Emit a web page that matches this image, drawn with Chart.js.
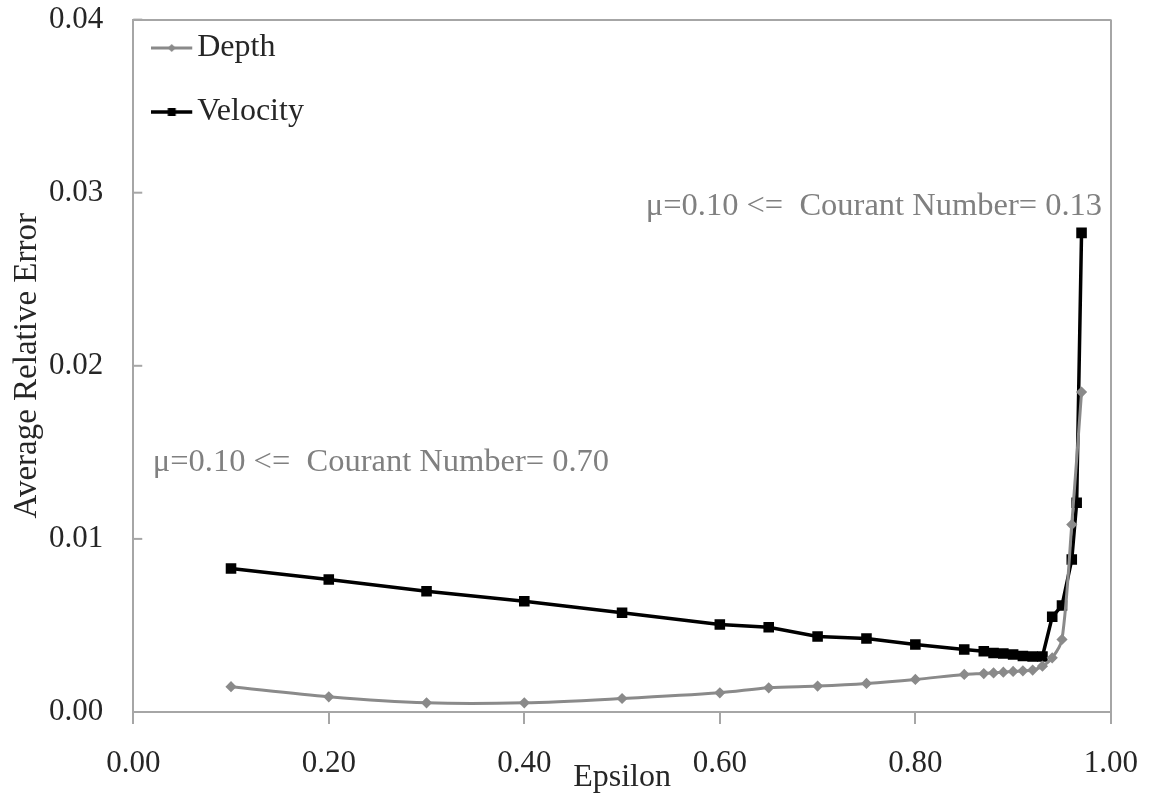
<!DOCTYPE html>
<html>
<head>
<meta charset="utf-8">
<script src="https://cdn.jsdelivr.net/npm/chart.js@4.4.0/dist/chart.umd.min.js"></script>
<style>
  html, body { margin: 0; padding: 0; background: #fff; }
  #wrap { width: 1152px; height: 797px; }
</style>
</head>
<body>
<div id="wrap"><canvas id="error-chart"></canvas></div>
<script>
// epsilon values along the x axis
const epsilon = [0.10, 0.20, 0.30, 0.40, 0.50, 0.60, 0.65, 0.70, 0.75, 0.80, 0.85, 0.87,
                 0.88, 0.89, 0.90, 0.91, 0.92, 0.93, 0.94, 0.95, 0.96, 0.965, 0.97];

// average relative error
const depthError = [0.00146, 0.00088, 0.00053, 0.00053, 0.00078, 0.00111, 0.00140, 0.00150,
                    0.00165, 0.00188, 0.00217, 0.00222, 0.00226, 0.00230, 0.00234, 0.00238,
                    0.00242, 0.00265, 0.00313, 0.00419, 0.01083, null, 0.01848];
const velocityError = [0.00829, 0.00765, 0.00698, 0.00640, 0.00573, 0.00505, 0.00490, 0.00436,
                       0.00425, 0.00390, 0.00361, 0.00351, 0.00341, 0.00338, 0.00332, 0.00324,
                       0.00321, 0.00321, 0.00550, 0.00615, 0.00881, 0.01209, 0.02768];

const seriesNames = ['Depth', 'Velocity'];
const noteTexts = ['μ=0.10 <=  Courant Number= 0.13', 'μ=0.10 <=  Courant Number= 0.70'];

const serif = '"Liberation Serif", "Times New Roman", serif';
const frame = '#a6a6a6';
const depthColor = '#8a8a8a';

Chart.defaults.font.family = serif;
Chart.defaults.color = '#262626';

// line + marker sample for the legend
function legendIcon(color, lw, marker) {
    const c = document.createElement('canvas');
    c.width = 44; c.height = 14;
    const g = c.getContext('2d');
    g.strokeStyle = color;
    g.fillStyle = color;
    g.lineWidth = lw;
    g.beginPath(); g.moveTo(0, 7); g.lineTo(41, 7); g.stroke();
    if (marker === 'rect') {
        g.fillRect(16.5, 3, 8, 8);
    } else {
        g.beginPath(); g.moveTo(20.5, 3); g.lineTo(24.5, 7); g.lineTo(20.5, 11); g.lineTo(16.5, 7); g.closePath(); g.fill();
    }
    return c;
}
const icons = [legendIcon(depthColor, 3, 'diamond'), legendIcon('#000', 3.5, 'rect')];

// text notes placed in data coordinates, plus the small inward y ticks
const notes = {
    id: 'notes',
    beforeDatasetsDraw(chart) {
        const {ctx, chartArea, scales: {y}} = chart;
        ctx.save();
        ctx.strokeStyle = frame;
        ctx.lineWidth = 2;
        y.ticks.forEach(t => {
            const py = y.getPixelForValue(t.value);
            ctx.beginPath();
            ctx.moveTo(chartArea.left, py);
            ctx.lineTo(chartArea.left + 9, py);
            ctx.stroke();
        });
        ctx.restore();
    },
    afterDatasetsDraw(chart) {
        const {ctx, scales: {x, y}} = chart;
        ctx.save();
        ctx.font = '32.5px ' + serif;
        ctx.fillStyle = '#808080';
        ctx.textBaseline = 'alphabetic';
        ctx.textAlign = 'right';
        ctx.fillText(noteTexts[0], x.getPixelForValue(0.991), y.getPixelForValue(0.0287));
        ctx.textAlign = 'left';
        ctx.fillText(noteTexts[1], x.getPixelForValue(0.02), y.getPixelForValue(0.0139));
        ctx.restore();
    }
};

let errorChart = new Chart(document.getElementById('error-chart'), {
    type: 'line',
    data: {
        datasets: [
            {
                label: seriesNames[0],
                data: epsilon.map((e, i) => ({x: e, y: depthError[i]})),
                borderColor: depthColor,
                backgroundColor: depthColor,
                borderWidth: 3,
                pointStyle: 'rectRot',
                pointRadius: 3.5,
                tension: 0.3,
                spanGaps: true
            },
            {
                label: seriesNames[1],
                data: epsilon.map((e, i) => ({x: e, y: velocityError[i]})),
                borderColor: '#000',
                backgroundColor: '#000',
                borderWidth: 3.5,
                pointStyle: 'rect',
                pointRadius: 5,
                tension: 0
            }
        ]
    },
    options: {
        animation: false,
        responsive: true,
        maintainAspectRatio: false,
        layout: { padding: { top: 2, right: 40 } },
        plugins: {
            tooltip: { enabled: false },
            legend: {
                position: 'chartArea',
                fullSize: false,
                align: 'start',
                labels: {
                    usePointStyle: true,
                    pointStyleWidth: 16,
                    padding: 32,
                    color: '#262626',
                    font: { size: 32, family: serif },
                    generateLabels(chart) {
                        const items = Chart.defaults.plugins.legend.labels.generateLabels(chart);
                        items.forEach((it, i) => { it.pointStyle = icons[i]; });
                        return items;
                    }
                }
            }
        },
        scales: {
            x: {
                type: 'linear',
                min: 0,
                max: 1,
                border: { color: frame, width: 2 },
                grid: {
                    color: c => Math.abs(c.tick.value - 1) < 1e-9 ? frame : 'transparent',
                    lineWidth: 2,
                    tickColor: frame,
                    tickLength: 19,
                    tickBorderDash: [11, 100]
                },
                ticks: {
                    stepSize: 0.2,
                    padding: 14,
                    color: '#262626',
                    font: { size: 31 },
                    maxRotation: 0,
                    callback: v => v.toFixed(2)
                },
                title: {
                    display: true,
                    text: 'Epsilon',
                    color: '#262626',
                    font: { size: 32 },
                    padding: { top: -37.6, bottom: 0 }
                }
            },
            y: {
                min: 0,
                max: 0.04,
                border: { color: frame, width: 2 },
                grid: {
                    color: c => Math.abs(c.tick.value - 0.04) < 1e-9 ? frame : 'transparent',
                    lineWidth: 2,
                    tickColor: 'transparent',
                    tickLength: 29
                },
                ticks: {
                    stepSize: 0.01,
                    padding: 1,
                    color: '#262626',
                    font: { size: 31 },
                    callback: v => v.toFixed(2)
                },
                title: {
                    display: true,
                    text: 'Average Relative Error',
                    color: '#262626',
                    font: { size: 33 },
                    padding: { top: 8, bottom: 0.4 }
                }
            }
        }
    },
    plugins: [notes]
});
</script>
</body>
</html>
